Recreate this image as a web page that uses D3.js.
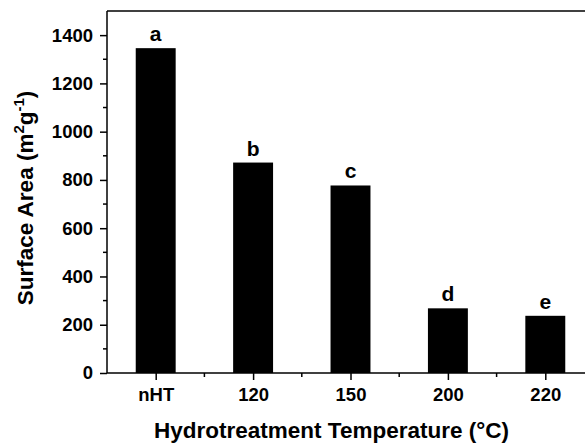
<!DOCTYPE html>
<html>
<head>
<meta charset="utf-8">
<script src="https://cdn.jsdelivr.net/npm/d3@7"></script>
<style>
  body { margin: 0; background: #fff; }
  svg { display: block; font-family: "Liberation Sans", Arial, sans-serif; }
</style>
</head>
<body>
<div id="chart"></div>
<script>
const categories = ["nHT", "120", "150", "200", "220"]
const surfaceArea = [1346, 872, 777, 268, 237]
const letters = ["a", "b", "c", "d", "e"]
const yTicks = [0, 200, 400, 600, 800, 1000, 1200, 1400]

const width = 585
const height = 443
const margin = {left: 107, top: 11, bottom: 70}
const plotRight = 594

const svg = d3.select("#chart")
  .append("svg")
  .attr("width", width)
  .attr("height", height)

const x = d3.scaleLinear()
  .domain([-0.5, categories.length - 0.5])
  .range([margin.left, plotRight])

const y = d3.scaleLinear()
  .domain([0, 1500])
  .range([height - margin.bottom, margin.top])

const step = x(1) - x(0)
const barW = step * 0.41

// bars
svg.append("g")
  .selectAll("rect")
  .data(surfaceArea)
  .join("rect")
  .attr("x", (d, i) => x(i) - barW / 2)
  .attr("y", d => y(d))
  .attr("width", barW)
  .attr("height", d => y(0) - y(d))
  .attr("fill", "#000")

// letters above bars
svg.append("g")
  .selectAll("text")
  .data(surfaceArea)
  .join("text")
  .attr("x", (d, i) => x(i))
  .attr("y", d => y(d) - 7)
  .attr("text-anchor", "middle")
  .attr("font-size", 21)
  .attr("font-weight", "bold")
  .text((d, i) => letters[i])

// y axis
const yAxis = d3.axisLeft(y)
  .tickValues(yTicks)
  .tickSize(7)
  .tickPadding(7)
  .tickFormat(d3.format("d"))
const gy = svg.append("g")
  .attr("transform", `translate(${margin.left},0)`)
  .call(yAxis)
gy.select(".domain").attr("stroke-width", 1.5).attr("d", `M0,${y(0)}V${y(1500)}`)
gy.selectAll(".tick line").attr("stroke-width", 1.5)
gy.selectAll(".tick text").attr("font-size", 18.5).attr("font-weight", "bold").attr("font-family", "Liberation Sans, Arial, sans-serif")

// y minor ticks
svg.append("g")
  .selectAll("line")
  .data(d3.range(100, 1500, 200))
  .join("line")
  .attr("x1", margin.left - 4)
  .attr("x2", margin.left)
  .attr("y1", d => y(d))
  .attr("y2", d => y(d))
  .attr("stroke", "#000")
  .attr("stroke-width", 1.5)

// x axis
const xAxis = d3.axisBottom(x)
  .tickValues(d3.range(categories.length))
  .tickSize(7)
  .tickPadding(8)
  .tickFormat(i => categories[i])
const gx = svg.append("g")
  .attr("transform", `translate(0,${y(0)})`)
  .call(xAxis)
gx.select(".domain").attr("stroke-width", 1.5).attr("d", `M${margin.left},0H${plotRight}`)
gx.selectAll(".tick line").attr("stroke-width", 1.5)
gx.selectAll(".tick text").attr("font-size", 18.5).attr("font-weight", "bold").attr("font-family", "Liberation Sans, Arial, sans-serif")

// x minor ticks
svg.append("g")
  .selectAll("line")
  .data(d3.range(0.5, categories.length, 1))
  .join("line")
  .attr("x1", d => x(d))
  .attr("x2", d => x(d))
  .attr("y1", y(0))
  .attr("y2", y(0) + 4)
  .attr("stroke", "#000")
  .attr("stroke-width", 1.5)

// top frame line
svg.append("line")
  .attr("x1", margin.left)
  .attr("x2", plotRight)
  .attr("y1", y(1500))
  .attr("y2", y(1500))
  .attr("stroke", "#000")
  .attr("stroke-width", 1.5)

// axis titles
svg.append("text")
  .attr("x", 331.5)
  .attr("y", 437.5)
  .attr("text-anchor", "middle")
  .attr("font-size", 22.5)
  .attr("font-weight", "bold")
  .text("Hydrotreatment Temperature (°C)")

const yt = svg.append("text")
  .attr("transform", "translate(33,198) rotate(-90)")
  .attr("text-anchor", "middle")
  .attr("font-size", 22.5)
  .attr("font-weight", "bold")
yt.append("tspan").text("Surface Area (m")
yt.append("tspan").attr("font-size", 15).attr("dy", -9).text("2")
yt.append("tspan").attr("font-size", 22.5).attr("dy", 9).text("g")
yt.append("tspan").attr("font-size", 15).attr("dy", -9).text("-1")
yt.append("tspan").attr("font-size", 22.5).attr("dy", 9).text(")")
</script>
</body>
</html>
